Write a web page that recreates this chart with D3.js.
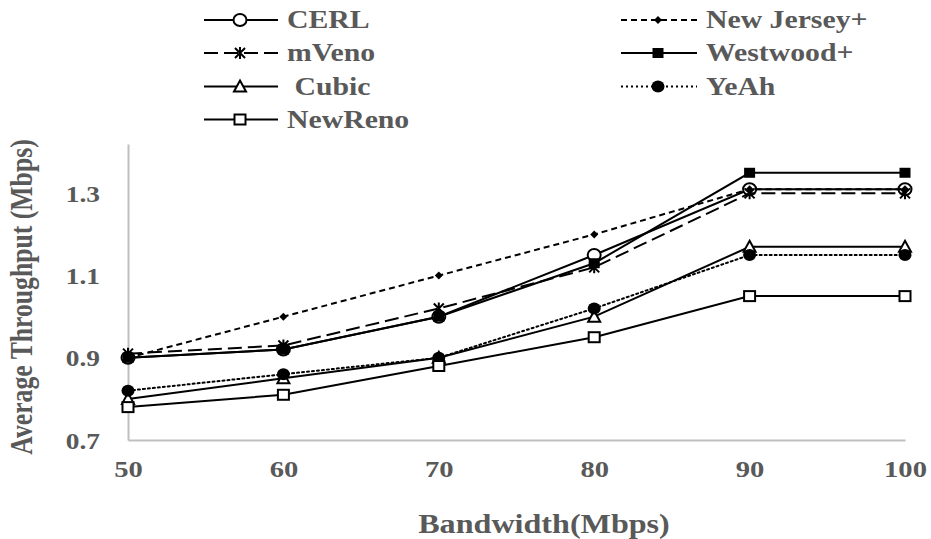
<!DOCTYPE html>
<html>
<head>
<meta charset="utf-8">
<script src="https://cdn.jsdelivr.net/npm/d3@7"></script>
<style>
  html, body { margin: 0; padding: 0; background: #fff; }
  svg { display: block; }
  text { font-family: "Liberation Serif", "Times New Roman", serif; font-weight: bold; fill: #595959; }
</style>
</head>
<body>
<svg id="chart" width="931" height="539"></svg>
<script>
// Bandwidth steps (x axis) and average throughput per algorithm (Mbps)
const bandwidth = [50, 60, 70, 80, 90, 100];
const cerl      = [0.90, 0.92, 1.00, 1.15, 1.31, 1.31];
const newJersey = [0.90, 1.00, 1.10, 1.20, 1.31, 1.31];
const mveno     = [0.91, 0.93, 1.02, 1.12, 1.30, 1.30];
const westwood  = [0.90, 0.92, 1.00, 1.13, 1.35, 1.35];
const cubic     = [0.80, 0.85, 0.90, 1.00, 1.17, 1.17];
const yeah      = [0.82, 0.86, 0.90, 1.02, 1.15, 1.15];
const newReno   = [0.78, 0.81, 0.88, 0.95, 1.05, 1.05];
const seriesNames = ["CERL", "New Jersey+", "mVeno", "Westwood+", "Cubic", "YeAh", "NewReno"];
const yTicks = [0.7, 0.9, 1.1, 1.3];
const xTitle = "Bandwidth(Mbps)";
const yTitle = "Average Throughput (Mbps)";

const seriesValues = [cerl, newJersey, mveno, westwood, cubic, yeah, newReno];

// drawing style for each series
const styles = {
  "CERL":        { dash: null,  marker: "circleOpen" },
  "New Jersey+": { dash: "6,4", marker: "diamond" },
  "mVeno":       { dash: "14,6", marker: "star" },
  "Westwood+":   { dash: null,  marker: "squareFilled" },
  "Cubic":       { dash: null,  marker: "triangleOpen" },
  "YeAh":        { dash: "2,3", marker: "circleFilled" },
  "NewReno":     { dash: null,  marker: "squareOpen" }
};

const svg = d3.select("#chart");
const SX = 1.19; // horizontal text stretch

const x = d3.scaleLinear().domain([50, 100]).range([128, 905]);
const y = d3.scaleLinear().domain([0.7, 1.42]).range([440, 144]);

// axes
const axisColor = "#bfbfbf";
const xAxis = d3.axisBottom(x).tickValues(bandwidth).tickSize(0).tickPadding(0).tickFormat(d3.format("d"));
const yAxis = d3.axisLeft(y).tickValues(yTicks).tickSize(0).tickPadding(0).tickFormat(d3.format(".1f"));

const gx = svg.append("g").attr("transform", `translate(0,${y(0.7)})`).call(xAxis);
gx.select(".domain").attr("stroke", axisColor).attr("stroke-width", 2);
gx.selectAll(".tick text")
  .attr("y", 0).attr("dy", 0)
  .attr("font-size", 24)
  .attr("transform", "translate(0,37) scale(" + SX + ",1)")
  .attr("text-anchor", "middle");

const gy = svg.append("g").attr("transform", `translate(${x(50)},0)`).call(yAxis);
gy.select(".domain").attr("stroke", axisColor).attr("stroke-width", 2);
gy.selectAll(".tick text")
  .attr("x", 0).attr("dy", 0)
  .attr("font-size", 23)
  .attr("transform", "translate(-28,8) scale(" + SX + ",1)")
  .attr("text-anchor", "end");
svg.selectAll(".tick text").attr("fill", "#595959").style("font-family", null);
svg.selectAll("g").attr("font-family", null);

// titles
svg.append("text")
  .attr("transform", `translate(544,533) scale(${SX},1)`)
  .attr("text-anchor", "middle")
  .attr("font-size", 27)
  .text(xTitle);
svg.append("text")
  .attr("transform", `translate(32,297) scale(${SX},1) rotate(-90)`)
  .attr("text-anchor", "middle")
  .attr("font-size", 25.7)
  .text(yTitle);

// marker drawing
function drawMarker(g, type) {
  switch (type) {
    case "circleOpen":
      g.append("ellipse").attr("rx", 6.5).attr("ry", 6).attr("fill", "#fff").attr("stroke", "#000").attr("stroke-width", 2);
      break;
    case "circleFilled":
      g.append("ellipse").attr("rx", 6.5).attr("ry", 6).attr("fill", "#000");
      break;
    case "squareOpen":
      g.append("rect").attr("x", -5.5).attr("y", -5).attr("width", 11).attr("height", 10).attr("fill", "#fff").attr("stroke", "#000").attr("stroke-width", 2);
      break;
    case "squareFilled":
      g.append("rect").attr("x", -5.5).attr("y", -5).attr("width", 11).attr("height", 10).attr("fill", "#000");
      break;
    case "triangleOpen":
      g.append("path").attr("d", "M0,-6 L6,5 L-6,5 Z").attr("fill", "#fff").attr("stroke", "#000").attr("stroke-width", 2).attr("stroke-linejoin", "miter");
      break;
    case "diamond":
      g.append("path").attr("d", "M0,-4 L4,0 L0,4 L-4,0 Z").attr("fill", "#000");
      break;
    case "star":
      g.append("path").attr("d", "M-5,-5 L5,5 M-5,5 L5,-5 M0,-6 L0,6").attr("fill", "none").attr("stroke", "#000").attr("stroke-width", 2);
      break;
  }
}

// series lines and markers
const line = d3.line().x((d, i) => x(bandwidth[i])).y(d => y(d));
seriesNames.forEach((name, si) => {
  const st = styles[name];
  const vals = seriesValues[si];
  const g = svg.append("g").attr("class", "series");
  g.append("path")
    .attr("d", line(vals))
    .attr("fill", "none")
    .attr("stroke", "#000")
    .attr("stroke-width", 2)
    .attr("stroke-dasharray", st.dash)
    .attr("stroke-linecap", name === "YeAh" ? "round" : "butt");
  vals.forEach((v, i) => {
    const mg = g.append("g").attr("transform", `translate(${x(bandwidth[i])},${y(v)})`);
    drawMarker(mg, st.marker);
  });
});

// legend: two columns
const legendCols = [
  { names: ["CERL", "mVeno", "Cubic", "NewReno"], x0: 204, x1: 278, xm: 240, xt: 287 },
  { names: ["New Jersey+", "Westwood+", "YeAh"], x0: 621, x1: 697, xm: 658, xt: 706 }
];
const rowY = [20, 53, 86.5, 119.5];
legendCols.forEach(col => {
  col.names.forEach((name, r) => {
    const st = styles[name];
    const g = svg.append("g").attr("class", "legend-item");
    g.append("line")
      .attr("x1", col.x0).attr("x2", col.x1)
      .attr("y1", rowY[r]).attr("y2", rowY[r])
      .attr("stroke", "#000").attr("stroke-width", 2)
      .attr("stroke-dasharray", st.dash);
    const mg = g.append("g").attr("transform", `translate(${col.xm},${rowY[r]})`);
    drawMarker(mg, st.marker);
    g.append("text")
      .attr("transform", `translate(${col.xt},${rowY[r] + 8.3}) scale(${SX},1)`)
      .attr("font-size", 25)
      .attr("xml:space", "preserve")
      .style("white-space", "pre")
      .text(name === "Cubic" ? " " + name : name);
  });
});
</script>
</body>
</html>
